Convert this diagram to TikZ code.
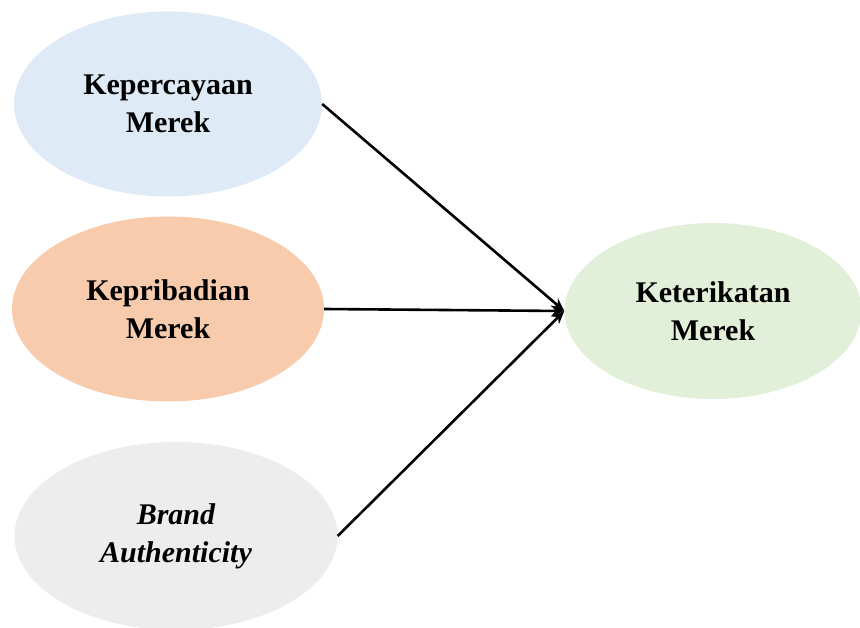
\documentclass[tikz,border=0pt]{standalone}
\usepackage{fontspec}
\setmainfont{Liberation Serif}
\usepackage{tikz}
\usetikzlibrary{positioning, arrows.meta, shapes.geometric}

\definecolor{trustblue}{HTML}{DEEAF6}
\definecolor{personorange}{HTML}{F8CBAD}
\definecolor{authgray}{HTML}{EDEDED}
\definecolor{attachgreen}{HTML}{E2F0D9}

\begin{document}
\begin{tikzpicture}[
    x=1pt, y=-1pt,
    construct/.style={ellipse, draw=none, inner sep=0pt, align=center,
        font=\fontsize{30}{38}\selectfont\bfseries},
    arrow/.style={-{Stealth[length=13pt, width=11pt]}, line width=2.6pt}
]
    \useasboundingbox (0, 0) rectangle (860, 628);

    % Independent variables
    \node[construct, fill=trustblue, minimum width=308pt, minimum height=185pt] (trust) at (168, 104) {Kepercayaan\\Merek};
    \node[construct, fill=personorange, minimum width=312pt, minimum height=185pt] (personality) at (168, 309) {Kepribadian\\Merek};
    \node[construct, fill=authgray, minimum width=323pt, minimum height=188pt, font=\fontsize{30}{38}\selectfont\bfseries\itshape] (authenticity) at (176, 536) {Brand\\Authenticity};

    % Dependent variable
    \node[construct, fill=attachgreen, minimum width=297pt, minimum height=176pt] (attachment) at (713, 311) {Keterikatan\\Merek};

    % Arrows
    \draw[arrow] (trust.east) -- (attachment.west);
    \draw[arrow] (personality.east) -- (attachment.west);
    \draw[arrow] (authenticity.east) -- (attachment.west);

\end{tikzpicture}
\end{document}
